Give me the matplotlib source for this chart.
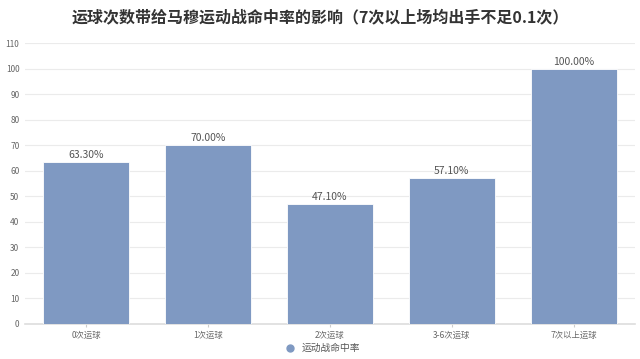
import matplotlib.pyplot as plt
import numpy as np

plt.rcParams['font.family'] = ['Noto Sans CJK SC', 'DejaVu Sans']

categories = ['0次运球', '1次运球', '2次运球', '3-6次运球', '7次以上运球']
values = [63.3, 70.0, 47.1, 57.1, 100.0]
labels = ['63.30%', '70.00%', '47.10%', '57.10%', '100.00%']
series_name = '运动战命中率'

fig = plt.figure(figsize=(6.4, 3.59), dpi=100)
ax = fig.add_axes([0.039, 0.0975, 0.953, 0.7825])

x = np.arange(len(categories))
bars = ax.bar(x, values, width=0.7, color='#7f99c2', edgecolor='white', linewidth=0.6, zorder=3)
for xi, v, lab in zip(x, values, labels):
    ax.text(xi, v + 0.8, lab, ha='center', va='bottom', fontsize=7.5, color='#555555', zorder=4)

ax.set_xlim(-0.5, len(categories) - 0.5)
ax.set_ylim(0, 110)
ax.set_yticks(range(0, 111, 10))
ax.grid(axis='y', color='#ebebeb', linewidth=0.8, zorder=0)
for s in ['top', 'right', 'left']:
    ax.spines[s].set_visible(False)
ax.spines['bottom'].set_color('#dddddd')
ax.spines['bottom'].set_linewidth(1.2)
ax.set_xticks(x)
ax.set_xticklabels(categories)
ax.tick_params(axis='x', length=2, color='#cccccc', labelsize=6, labelcolor='#666666', pad=3)
ax.tick_params(axis='y', length=0, labelsize=6, labelcolor='#666666', pad=4)

fig.text(0.5, 0.953, '运球次数带给马穆运动战命中率的影响（7次以上场均出手不足0.1次）',
         ha='center', va='center', fontsize=11.5, fontweight='bold', color='#333333')

handle = plt.Line2D([], [], marker='o', linestyle='none', color='#7f99c2', markersize=5)
fig.legend([handle], [series_name], loc='center', bbox_to_anchor=(0.5, 0.03),
           frameon=False, fontsize=7, handletextpad=0.2, labelcolor='#555555')

fig.savefig('out.png', dpi=100)
